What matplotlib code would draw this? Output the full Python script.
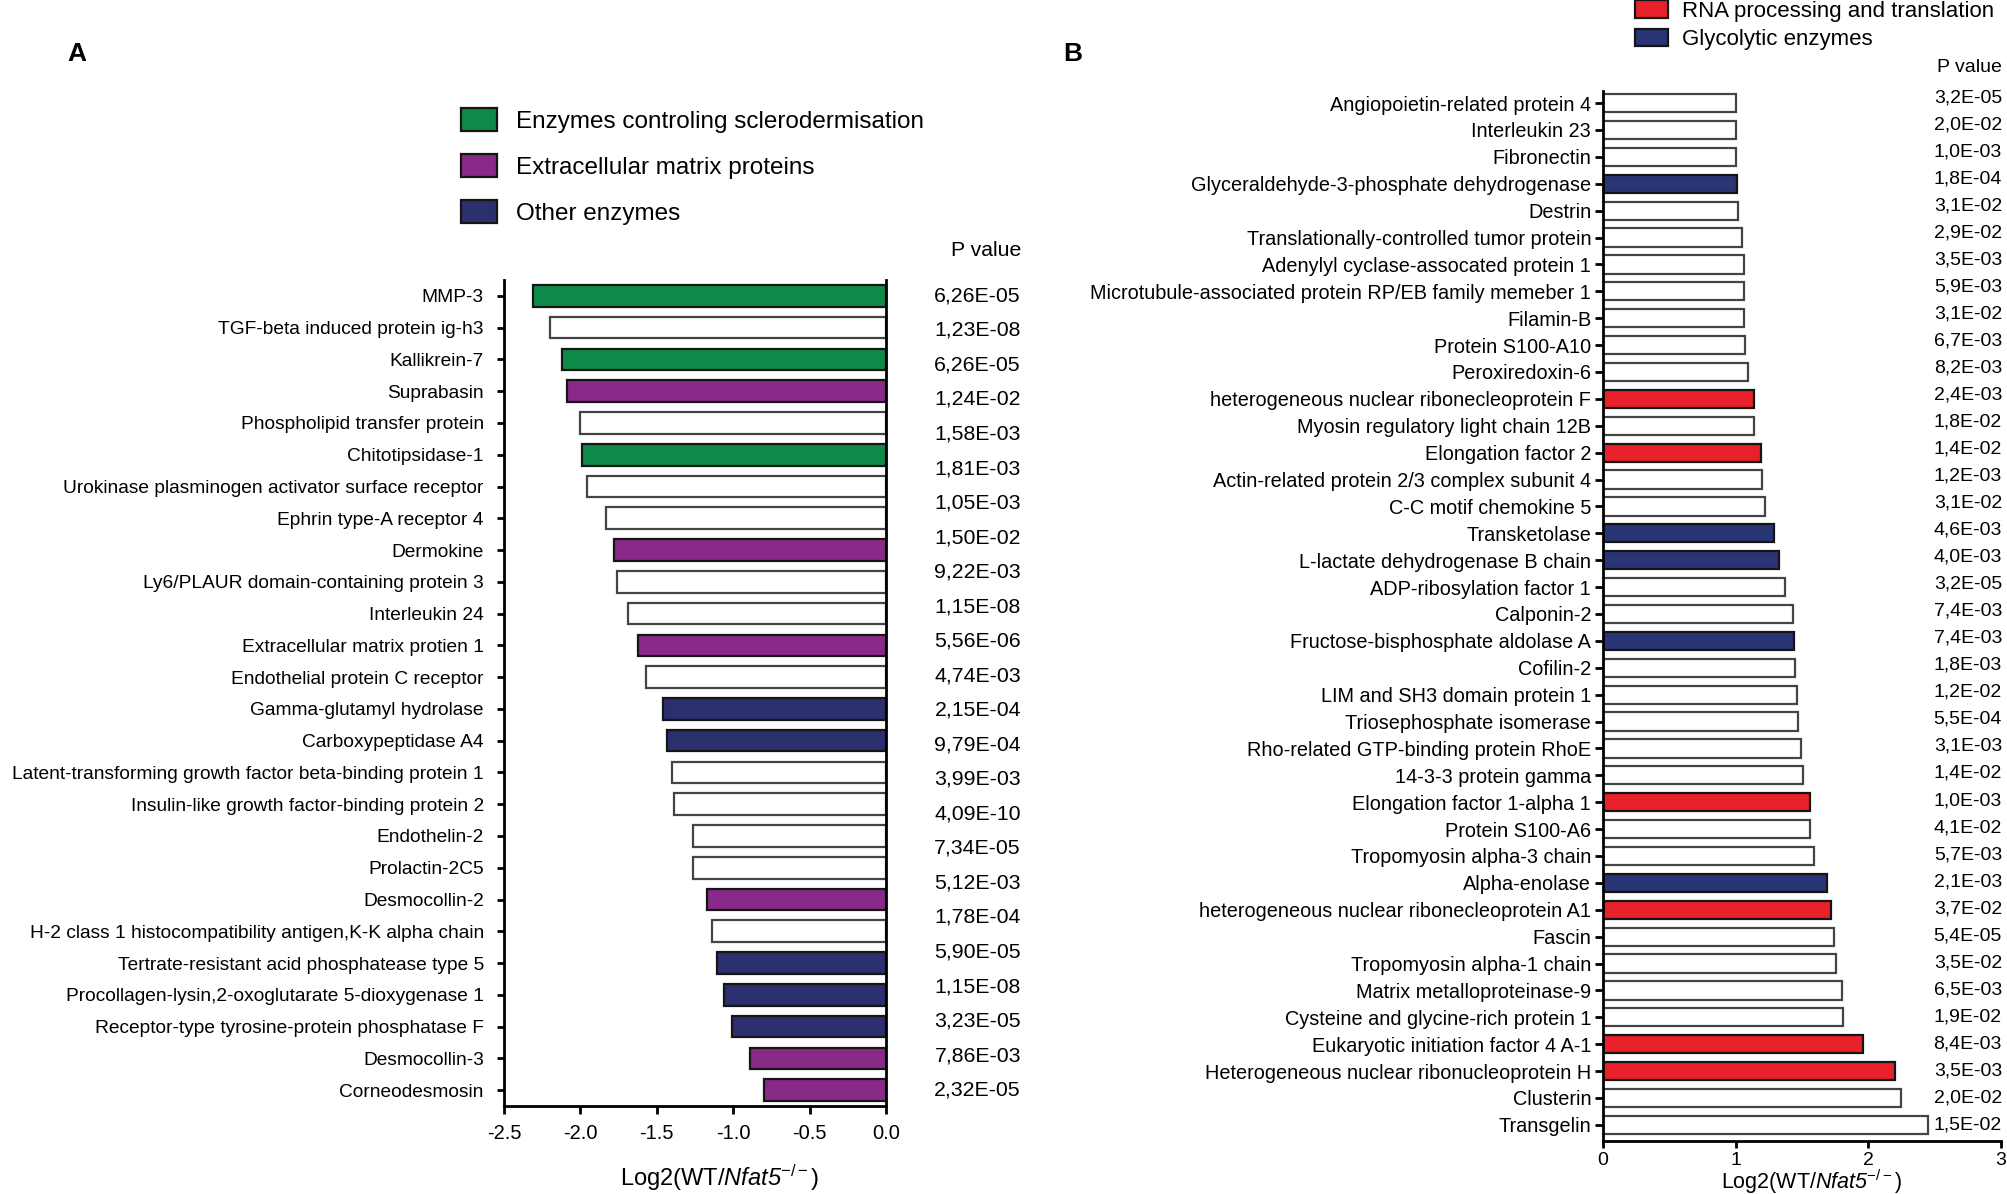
import numpy as np
import matplotlib.pyplot as plt
from matplotlib.patches import Patch
from matplotlib import transforms

plt.rcParams['axes.unicode_minus'] = False
plt.rcParams['mathtext.fontset'] = 'custom'
plt.rcParams['mathtext.rm'] = 'Liberation Sans'
plt.rcParams['mathtext.it'] = 'Liberation Sans:italic'
plt.rcParams['mathtext.cal'] = 'Liberation Sans:italic'

FONT = ['Liberation Sans', 'DejaVu Sans']

# ---- panel A data (downregulated) ----
A_labels = ["MMP-3", "TGF-beta induced protein ig-h3", "Kallikrein-7", "Suprabasin",
            "Phospholipid transfer protein", "Chitotipsidase-1",
            "Urokinase plasminogen activator surface receptor", "Ephrin type-A receptor 4",
            "Dermokine", "Ly6/PLAUR domain-containing protein 3", "Interleukin 24",
            "Extracellular matrix protien 1", "Endothelial protein C receptor",
            "Gamma-glutamyl hydrolase", "Carboxypeptidase A4",
            "Latent-transforming growth factor beta-binding protein 1",
            "Insulin-like growth factor-binding protein 2", "Endothelin-2", "Prolactin-2C5",
            "Desmocollin-2", "H-2 class 1 histocompatibility antigen,K-K alpha chain",
            "Tertrate-resistant acid phosphatease type 5",
            "Procollagen-lysin,2-oxoglutarate 5-dioxygenase 1",
            "Receptor-type tyrosine-protein phosphatase F", "Desmocollin-3", "Corneodesmosin"]
A_values = [-2.31, -2.20, -2.12, -2.09, -2.00, -1.99, -1.96, -1.83, -1.78, -1.76, -1.69,
            -1.62, -1.57, -1.46, -1.43, -1.40, -1.39, -1.26, -1.26, -1.17, -1.14, -1.105,
            -1.06, -1.01, -0.89, -0.80]
A_groups = ["scl", "", "scl", "ecm", "", "scl", "", "", "ecm", "", "", "ecm", "", "oth", "oth",
            "", "", "", "", "ecm", "", "oth", "oth", "oth", "ecm", "ecm"]
A_pvals = ["6,26E-05", "1,23E-08", "6,26E-05", "1,24E-02", "1,58E-03", "1,81E-03", "1,05E-03",
           "1,50E-02", "9,22E-03", "1,15E-08", "5,56E-06", "4,74E-03", "2,15E-04", "9,79E-04",
           "3,99E-03", "4,09E-10", "7,34E-05", "5,12E-03", "1,78E-04", "5,90E-05", "1,15E-08",
           "3,23E-05", "7,86E-03", "2,32E-05"]
A_legend = {"scl": "Enzymes controling sclerodermisation",
            "ecm": "Extracellular matrix proteins",
            "oth": "Other enzymes"}
A_colors = {"scl": "#0e8a48", "ecm": "#8a2a88", "oth": "#2b2f6e", "": "white"}

# ---- panel B data (upregulated) ----
B_labels = ["Angiopoietin-related protein 4", "Interleukin 23", "Fibronectin",
            "Glyceraldehyde-3-phosphate dehydrogenase", "Destrin",
            "Translationally-controlled tumor protein", "Adenylyl cyclase-assocated protein 1",
            "Microtubule-associated protein RP/EB family memeber 1", "Filamin-B",
            "Protein S100-A10", "Peroxiredoxin-6", "heterogeneous nuclear ribonecleoprotein F",
            "Myosin regulatory light chain 12B", "Elongation factor 2",
            "Actin-related protein 2/3 complex subunit 4", "C-C motif chemokine 5",
            "Transketolase", "L-lactate dehydrogenase B chain", "ADP-ribosylation factor 1",
            "Calponin-2", "Fructose-bisphosphate aldolase A", "Cofilin-2",
            "LIM and SH3 domain protein 1", "Triosephosphate isomerase",
            "Rho-related GTP-binding protein RhoE", "14-3-3 protein gamma",
            "Elongation factor 1-alpha 1", "Protein S100-A6", "Tropomyosin alpha-3 chain",
            "Alpha-enolase", "heterogeneous nuclear ribonecleoprotein A1", "Fascin",
            "Tropomyosin alpha-1 chain", "Matrix metalloproteinase-9",
            "Cysteine and glycine-rich protein 1", "Eukaryotic initiation factor 4 A-1",
            "Heterogeneous nuclear ribonucleoprotein H", "Clusterin", "Transgelin"]
B_values = [1.00, 1.00, 1.00, 1.01, 1.02, 1.05, 1.06, 1.065, 1.065, 1.07, 1.09, 1.14, 1.14,
            1.19, 1.20, 1.22, 1.29, 1.33, 1.37, 1.43, 1.44, 1.45, 1.46, 1.47, 1.49, 1.51,
            1.56, 1.56, 1.59, 1.69, 1.72, 1.74, 1.76, 1.80, 1.81, 1.96, 2.20, 2.25, 2.45]
B_groups = ["", "", "", "gly", "", "", "", "", "", "", "", "rna", "", "rna", "", "", "gly",
            "gly", "", "", "gly", "", "", "", "", "", "rna", "", "", "gly", "rna", "", "",
            "", "", "rna", "rna", "", ""]
B_pvals = ["3,2E-05", "2,0E-02", "1,0E-03", "1,8E-04", "3,1E-02", "2,9E-02", "3,5E-03",
           "5,9E-03", "3,1E-02", "6,7E-03", "8,2E-03", "2,4E-03", "1,8E-02", "1,4E-02",
           "1,2E-03", "3,1E-02", "4,6E-03", "4,0E-03", "3,2E-05", "7,4E-03", "7,4E-03",
           "1,8E-03", "1,2E-02", "5,5E-04", "3,1E-03", "1,4E-02", "1,0E-03", "4,1E-02",
           "5,7E-03", "2,1E-03", "3,7E-02", "5,4E-05", "3,5E-02", "6,5E-03", "1,9E-02",
           "8,4E-03", "3,5E-03", "2,0E-02", "1,5E-02"]
B_legend = {"rna": "RNA processing and translation", "gly": "Glycolytic enzymes"}
B_colors = {"rna": "#e8202a", "gly": "#283474", "": "white"}

XLABEL = r'$\mathrm{Log2(WT/}\mathcal{Nfat5}^{\mathrm{-/-}}\mathrm{)}$'

W, H = 2008, 1194
fig = plt.figure(figsize=(W / 100, H / 100), dpi=100)


def px_axes(l, t, r, b):
    return fig.add_axes([l / W, 1 - b / H, (r - l) / W, (b - t) / H])


def draw_bars(ax, values, groups, colors):
    y = np.arange(len(values))
    fc = [colors[g] for g in groups]
    ec = ['#444444' if g == "" else '#151515' for g in groups]
    ax.barh(y, values, height=0.68, color=fc, edgecolor=ec, linewidth=1.6, zorder=2)
    return y


# ---------------- panel A ----------------
axA = px_axes(504, 280, 886, 1106)
yA = draw_bars(axA, A_values, A_groups, A_colors)
axA.set_xlim(-2.5, 0)
axA.set_ylim(len(A_values) - 0.5, -0.5)
axA.set_yticks(yA)
axA.set_yticklabels(A_labels, family=FONT, fontsize=13.8)
axA.set_xticks(np.arange(-2.5, 0.01, 0.5))
axA.set_xticklabels(["%.1f" % v for v in np.arange(-2.5, 0.01, 0.5)], family=FONT, fontsize=14.5)
axA.spines['top'].set_visible(False)
for s in ['left', 'bottom', 'right']:
    axA.spines[s].set_linewidth(2)
axA.tick_params(axis='y', length=5, width=2, pad=9.5)
axA.tick_params(axis='x', length=6, width=2, pad=7)
axA.set_xlabel(XLABEL, fontsize=17)
axA.xaxis.set_label_coords(0.563, -0.087)
axA.xaxis.label.set_va('center')

trA = transforms.blended_transform_factory(fig.transFigure, axA.transData)
for yy, p in zip(np.linspace(0, len(A_values) - 1, len(A_pvals)), A_pvals):
    axA.text(1021 / W, yy, p, transform=trA, ha='right', va='center',
             family=FONT, fontsize=15.3, clip_on=False)
fig.text(1021 / W, 1 - 250 / H, "P value", ha='right', va='center', family=FONT, fontsize=15.3)

handlesA = [Patch(facecolor=A_colors[k], edgecolor='#151515', linewidth=1.6, label=v)
            for k, v in A_legend.items()]
fig.legend(handles=handlesA, loc='upper left', bbox_to_anchor=(461 / W, 1 - 108 / H),
           frameon=False, prop={'family': FONT, 'size': 17.5}, handlelength=1.48,
           handleheight=1.1, labelspacing=0.86, handletextpad=0.8, borderpad=0,
           borderaxespad=0)

fig.text(77 / W, 1 - 54 / H, "A", family=FONT, fontweight='bold', fontsize=19,
         ha='center', va='center')

# ---------------- panel B ----------------
axB = px_axes(1603, 91, 2001, 1141)
yB = draw_bars(axB, B_values, B_groups, B_colors)
axB.set_xlim(0, 3)
axB.set_ylim(len(B_values) - 0.4, -0.45)
axB.set_yticks(yB)
axB.set_yticklabels(B_labels, family=FONT, fontsize=14.3)
axB.set_xticks([0, 1, 2, 3])
axB.set_xticklabels(["0", "1", "2", "3"], family=FONT, fontsize=14)
axB.spines['top'].set_visible(False)
axB.spines['right'].set_visible(False)
for s in ['left', 'bottom']:
    axB.spines[s].set_linewidth(2)
axB.tick_params(axis='y', length=6, width=2, pad=2.5)
axB.tick_params(axis='x', length=5, width=2, pad=3)
axB.set_xlabel(XLABEL, fontsize=15.5)
axB.xaxis.set_label_coords(0.525, -0.039)
axB.xaxis.label.set_va('center')

trB = transforms.blended_transform_factory(fig.transFigure, axB.transData)
for yy, p in zip(np.linspace(-0.2, len(B_values) - 1, len(B_pvals)), B_pvals):
    axB.text(2002 / W, yy, p, transform=trB, ha='right', va='center',
             family=FONT, fontsize=14, clip_on=False)
fig.text(2002 / W, 1 - 67 / H, "P value", ha='right', va='center', family=FONT, fontsize=14)

handlesB = [Patch(facecolor=B_colors[k], edgecolor='#151515', linewidth=1.6, label=v)
            for k, v in B_legend.items()]
fig.legend(handles=handlesB, loc='upper left', bbox_to_anchor=(1635 / W, 1 - 0 / H),
           frameon=False, prop={'family': FONT, 'size': 16}, handlelength=1.5,
           handleheight=0.85, labelspacing=0.32, handletextpad=0.6, borderpad=0,
           borderaxespad=0)

fig.text(1073 / W, 1 - 54 / H, "B", family=FONT, fontweight='bold', fontsize=19,
         ha='center', va='center')

fig.savefig("out.png", dpi=100)
